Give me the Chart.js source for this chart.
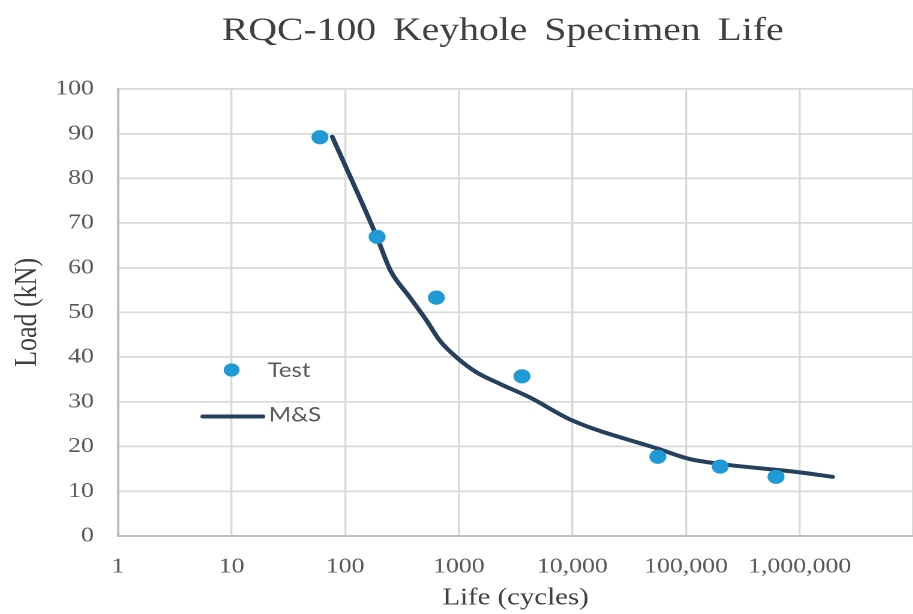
<!DOCTYPE html>
<html>
<head>
<meta charset="utf-8">
<script src="https://cdn.jsdelivr.net/npm/chart.js@4.4.1/dist/chart.umd.min.js"></script>
<style>
  html, body { margin: 0; padding: 0; background: #fff; overflow: hidden; }
  /* the source picture is stretched sideways, so draw narrower and stretch */
  #wrap { width: 761px; height: 614px; transform: scaleX(1.2); transform-origin: 0 0; }
</style>
</head>
<body>
<div id="wrap"><canvas id="myChart"></canvas></div>
<script>
  var chartTitle = "RQC-100 Keyhole Specimen Life";

  var testLife = [60, 191, 635, 3600, 56500, 200000, 620000];
  var testLoad = [89.2, 66.9, 53.3, 35.7, 17.7, 15.5, 13.2];

  var msLife = [77, 190, 250, 370, 520, 680, 950, 1430, 2300, 4200, 10000, 58000, 107000, 185000, 1000000, 1950000];
  var msLoad = [89.3, 66.9, 59.4, 53.4, 48.2, 43.7, 40.0, 36.6, 34.0, 31.0, 25.8, 19.4, 17.2, 16.2, 14.2, 13.2];

  var xTickValues = [1, 10, 100, 1000, 10000, 100000, 1000000, 10000000];
  var xTickLabels = ["1", "10", "100", "1000", "10,000", "100,000", "1,000,000", ""];

  var testColor = "#1f9ad6";
  var msColor = "#263f5d";

  function toPoints(xs, ys) {
    return xs.map(function (x, i) { return { x: x, y: ys[i] }; });
  }

  var titlePlugin = {
    id: "titleText",
    afterDraw: function (chart) {
      var ctx = chart.ctx;
      ctx.save();
      ctx.font = "33px 'Liberation Serif'";
      ctx.fillStyle = "#404040";
      ctx.textAlign = "center";
      ctx.textBaseline = "alphabetic";
      if ("wordSpacing" in ctx) ctx.wordSpacing = "6px";
      ctx.fillText(chartTitle, 419, 40);
      ctx.restore();
    }
  };

  // legend sits inside the plot, left side
  var legendPlugin = {
    id: "innerLegend",
    afterDraw: function (chart) {
      var ctx = chart.ctx;
      var ds = chart.data.datasets;
      ctx.save();
      ctx.font = "20px Lato";
      ctx.textAlign = "left";
      ctx.textBaseline = "alphabetic";

      ctx.beginPath();
      ctx.arc(193, 370, 6.6, 0, Math.PI * 2);
      ctx.fillStyle = ds[0].backgroundColor;
      ctx.fill();
      ctx.fillStyle = "#595959";
      ctx.fillText(ds[0].label, 223, 377);

      ctx.beginPath();
      ctx.moveTo(169, 416.5);
      ctx.lineTo(219, 416.5);
      ctx.strokeStyle = ds[1].borderColor;
      ctx.lineWidth = 4;
      ctx.lineCap = "round";
      ctx.stroke();
      ctx.fillText(ds[1].label, 224, 421.5);
      ctx.restore();
    }
  };

  var ctx = document.getElementById("myChart").getContext("2d");

  new Chart(ctx, {
    type: "scatter",
    data: {
      datasets: [{
        label: "Test",
        data: toPoints(testLife, testLoad),
        backgroundColor: testColor,
        borderColor: testColor,
        pointRadius: 6.6,
        pointHoverRadius: 6.6,
        showLine: false,
        order: 0
      }, {
        label: "M&S",
        data: toPoints(msLife, msLoad),
        borderColor: msColor,
        backgroundColor: msColor,
        borderWidth: 4,
        pointRadius: 0,
        showLine: true,
        cubicInterpolationMode: "monotone",
        borderCapStyle: "round",
        order: 1
      }]
    },
    options: {
      responsive: true,
      maintainAspectRatio: false,
      animation: false,
      devicePixelRatio: 2,
      layout: { autoPadding: false, padding: { top: 89, left: 0, right: 0, bottom: 0 } },
      plugins: {
        legend: { display: false },
        tooltip: { enabled: false }
      },
      scales: {
        x: {
          type: "logarithmic",
          min: 1,
          max: 10000000,
          afterBuildTicks: function (scale) {
            scale.ticks = xTickValues.map(function (v) { return { value: v }; });
          },
          afterFit: function (scale) {
            scale.height = 78.2;
            scale.paddingLeft = 0;
            scale.paddingRight = 0;
          },
          grid: { color: "#d9d9d9", lineWidth: 1.7, drawTicks: false },
          border: { color: "#bfbfbf", width: 2 },
          ticks: {
            autoSkip: false,
            maxRotation: 0,
            padding: 18,
            color: "#595959",
            font: { family: "'Liberation Serif'", size: 21.5 },
            callback: function (value) {
              var i = xTickValues.indexOf(value);
              return i >= 0 ? xTickLabels[i] : "";
            }
          },
          title: {
            display: true,
            text: "Life (cycles)",
            color: "#404040",
            font: { family: "'Liberation Serif'", size: 24 },
            padding: { top: 4, bottom: 1.6 }
          }
        },
        y: {
          min: 0,
          max: 100,
          afterFit: function (scale) {
            scale.width = 98.3;
          },
          grid: { color: "#d9d9d9", lineWidth: 1.7, drawTicks: false },
          border: { color: "#bfbfbf", width: 2 },
          ticks: {
            stepSize: 10,
            padding: 20,
            color: "#595959",
            font: { family: "'Liberation Serif'", size: 21.5 }
          },
          title: {
            display: true,
            text: "Load (kN)",
            color: "#404040",
            font: { family: "'Liberation Serif'", size: 26 },
            padding: { top: 7.5, bottom: 8 }
          }
        }
      }
    },
    plugins: [titlePlugin, legendPlugin]
  });
</script>
</body>
</html>
